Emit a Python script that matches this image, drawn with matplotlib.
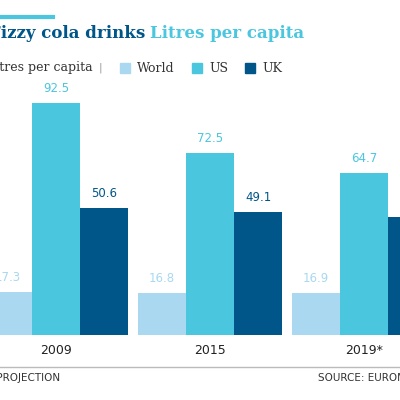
import matplotlib
matplotlib.use("Agg")
import matplotlib.pyplot as plt
from matplotlib.patches import Rectangle
from matplotlib.lines import Line2D

years = ["2009", "2015", "2019*"]
world = [17.3, 16.8, 16.9]
us = [92.5, 72.5, 64.7]
uk = [50.6, 49.1, 47.0]
series = [("World", world, "#a9d8f0", "#a9d8f0"),
          ("US", us, "#4bc6df", "#4bc6df"),
          ("UK", uk, "#005689", "#005689")]

fig = plt.figure(figsize=(4, 4), dpi=100)
ax = fig.add_axes([0, 65/400, 1, 275/400])
ax.set_xlim(-56/154, 344/154)
ax.set_ylim(0, 275/2.51)
ax.axis("off")
w = 48/154
for k, (name, vals, col, tcol) in enumerate(series):
    for i, v in enumerate(vals):
        x = i + (k - 1) * w
        ax.bar(x, v, width=w, color=col, linewidth=0)
        ax.text(x, v + 3, f"{v:.1f}", ha="center", va="bottom", fontsize=8.5,
                color=tcol, family="DejaVu Sans")
for i, y in enumerate(years):
    fig.text((56 + 154*i)/400, 1 - 350/400, y, ha="center", va="center",
             fontsize=9, color="#222222")

fig.add_artist(Line2D([0, 53/400], [1-17/400]*2, color="#4bc6df", lw=3))
t1 = fig.text(-11/400, 1-33/400, "Fizzy cola drinks", fontsize=12, fontweight="bold",
              family="DejaVu Serif", color="#005689", va="center")
fig.canvas.draw()
bb = t1.get_window_extent()
fig.text((bb.x1 + 5)/400, 1-33/400, "Litres per capita", fontsize=12, fontweight="bold",
         family="DejaVu Serif", color="#4bc6df", va="center")
fig.text(-13/400, 1-68/400, "Litres per capita", fontsize=9, color="#333333",
         family="DejaVu Serif", va="center")
fig.text(99/400, 1-68/400, "|", fontsize=8, color="#999999", va="center")
for (name, _, col, _), sx in zip(series, [120, 192, 245]):
    fig.add_artist(Rectangle((sx/400, 1-73/400), 10/400, 10/400, color=col))
    fig.text((sx+17)/400, 1-68/400, name, fontsize=9, color="#333333",
             family="DejaVu Serif", va="center")
fig.add_artist(Line2D([0, 1], [1-367/400]*2, color="#bbbbbb", lw=1))
fig.text(-12/400, 1-378/400, "* PROJECTION", fontsize=7.5, color="#333333", va="center")
fig.text(318/400, 1-378/400, "SOURCE: EUROMONITOR", fontsize=7.5, color="#333333", va="center")
fig.savefig("out.png", dpi=100)
